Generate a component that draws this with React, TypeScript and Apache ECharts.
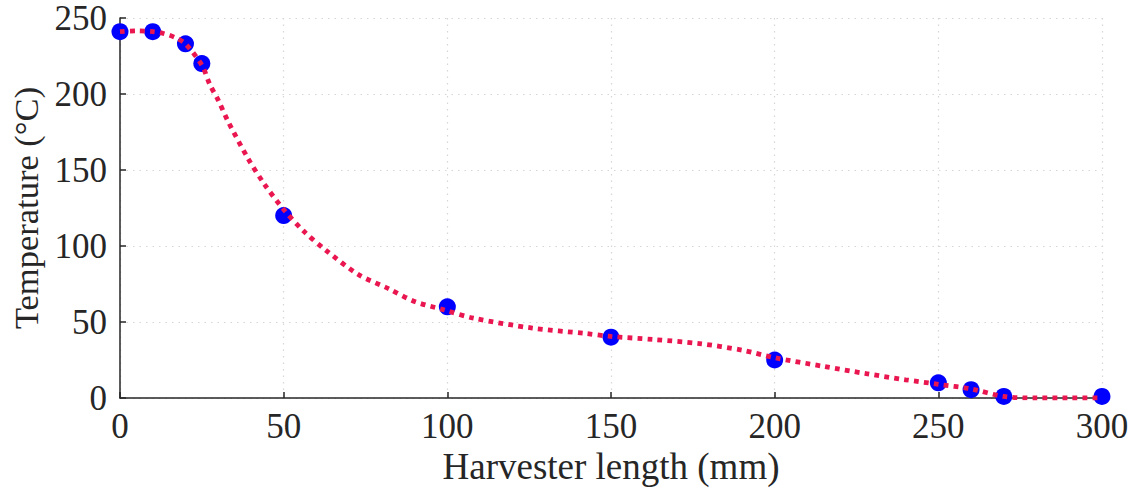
import React, { useEffect, useRef } from "react";
import * as echarts from "echarts";

const pointX = [0, 10, 20, 25, 50, 100, 150, 200, 250, 260, 270, 300];
const pointY = [241, 241, 233, 220, 120, 60, 40, 25, 10, 5.5, 1, 1];

const curveX = [0, 5, 10, 13, 17, 20, 25, 27.5, 30, 33, 39, 44, 50, 56, 63, 73, 82, 90, 99, 108, 126, 142, 150, 163, 177, 190, 200, 215, 228, 240, 250, 260, 270, 280, 290, 300];
const curveY = [241, 241.5, 241, 240, 237, 233, 219, 206, 196, 182, 158, 141, 124, 110, 97, 81, 72, 63.5, 58, 52.5, 46, 42.5, 40.5, 38.5, 35.8, 31.5, 26.5, 20.8, 16, 12, 9, 6, 1, 0, 0, 0];

const xTicks = [0, 50, 100, 150, 200, 250, 300];
const yTicks = [0, 50, 100, 150, 200, 250];

export default function App() {
  const ref = useRef<HTMLDivElement>(null);
  useEffect(() => {
    if (!ref.current) return;
    const chart = echarts.init(ref.current, undefined, { renderer: "svg" });
    const font = "Liberation Serif";
    chart.setOption({
      animation: false,
      grid: { left: 120, right: 29, top: 18, bottom: 98, outerBoundsMode: "none", containLabel: false },
      xAxis: {
        type: "value",
        min: xTicks[0],
        max: xTicks[xTicks.length - 1],
        interval: 50,
        name: "Harvester length (mm)",
        nameLocation: "middle",
        nameGap: 46,
        nameTextStyle: { fontFamily: font, fontSize: 37, color: "#262626" },
        axisLine: { lineStyle: { color: "#262626", width: 1.5 } },
        axisTick: { inside: true, length: 6, lineStyle: { color: "#262626", width: 1.5 } },
        axisLabel: { fontFamily: font, fontSize: 35, lineHeight: 30, color: "#262626", margin: 13 },
        splitLine: { show: true, lineStyle: { color: "#d6d6d6", type: [1.5, 5], width: 1.2 } },
      },
      yAxis: {
        type: "value",
        min: yTicks[0],
        max: yTicks[yTicks.length - 1],
        interval: 50,
        name: "Temperature (°C)",
        nameLocation: "middle",
        nameGap: 74,
        nameTextStyle: { fontFamily: font, fontSize: 34.5, color: "#262626" },
        axisLine: { show: true, lineStyle: { color: "#262626", width: 1.5 } },
        axisTick: { show: true, inside: true, length: 6, lineStyle: { color: "#262626", width: 1.5 } },
        axisLabel: { fontFamily: font, fontSize: 35, lineHeight: 30, color: "#262626", margin: 13 },
        splitLine: { show: true, lineStyle: { color: "#d6d6d6", type: [1.5, 5], width: 1.2 } },
      },
      series: [
        {
          type: "scatter",
          data: pointX.map((x, i) => [x, pointY[i]]),
          symbol: "circle",
          symbolSize: 17,
          itemStyle: { color: "#0000ff", opacity: 1 },
          z: 2,
        },
        {
          type: "line",
          data: curveX.map((x, i) => [x, curveY[i]]),
          smooth: 0.3,
          showSymbol: false,
          symbol: "none",
          lineStyle: { color: "#ea1650", width: 4.8, type: [4.8, 5.2] },
          z: 3,
        },
      ],
    });
    return () => chart.dispose();
  }, []);
  return (
    <div
      ref={ref}
      style={{ position: "absolute", left: 0, top: 0, width: 1131, height: 496 }}
    />
  );
}
